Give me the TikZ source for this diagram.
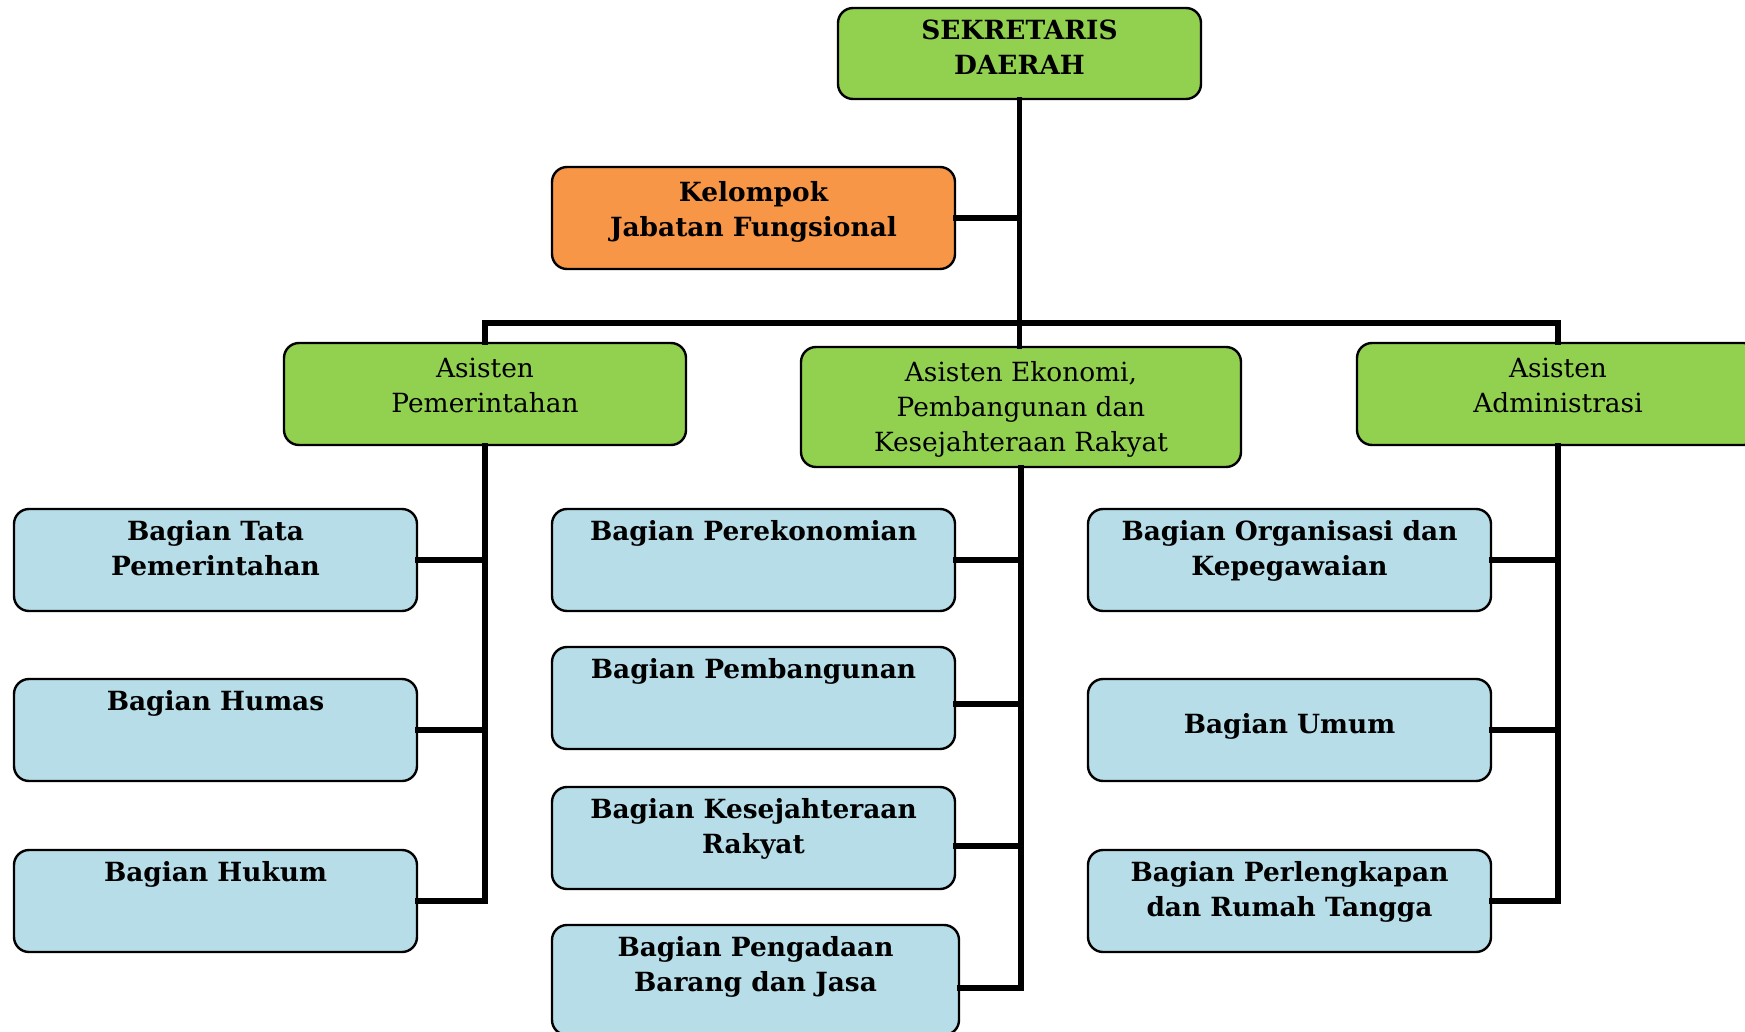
\documentclass[tikz,border=0pt]{standalone}
\usepackage{fontspec}
\setmainfont{DejaVu Serif}
\definecolor{grn}{HTML}{92D050}
\definecolor{org}{HTML}{F79646}
\definecolor{lblue}{HTML}{B7DEE8}
\begin{document}
\begin{tikzpicture}[x=0.5pt,y=-0.5pt,
  box/.style={draw=black, line width=1.2pt, rounded corners=7.5pt, inner sep=0pt},
  gbox/.style={box, fill=grn},
  obox/.style={box, fill=org},
  bbox/.style={box, fill=lblue, minimum width=201.5pt, minimum height=51pt},
  txt/.style={anchor=north, inner sep=0pt, align=center, font=\fontsize{13.2}{17.5}\selectfont},
  btxt/.style={txt, font=\fontsize{13.2}{17.5}\selectfont\bfseries},
  conn/.style={line width=2.8pt, line cap=rect}]
\useasboundingbox (0,0) rectangle (1745,1032);
\clip (0,0) rectangle (1745,1032);

% boxes
\node[gbox, minimum width=181.5pt, minimum height=45.5pt] (sek) at (1019.5,53.5) {};
\node[obox, minimum width=201.5pt, minimum height=51pt] (kel) at (753.5,218) {};
\node[gbox, minimum width=201pt, minimum height=51pt] (asp) at (485,394) {};
\node[gbox, minimum width=220pt, minimum height=60pt] (ase) at (1021,407) {};
\node[gbox, minimum width=201pt, minimum height=51pt] (asa) at (1558,394) {};

\node[bbox] (l1) at (215.5,560) {};
\node[bbox] (l2) at (215.5,730) {};
\node[bbox] (l3) at (215.5,901) {};
\node[bbox] (m1) at (753.5,560) {};
\node[bbox] (m2) at (753.5,698) {};
\node[bbox] (m3) at (753.5,838) {};
\node[bbox, minimum width=203.5pt, minimum height=55pt] (m4) at (755.5,980) {};
\node[bbox] (r1) at (1289.5,560) {};
\node[bbox] (r2) at (1289.5,730) {};
\node[bbox] (r3) at (1289.5,901) {};

% texts
\node[btxt] (sekT) at ([yshift=-6.5pt]sek.north) {SEKRETARIS\\DAERAH};
\node[btxt] (kelT) at ([yshift=-7.5pt]kel.north) {Kelompok\\Jabatan Fungsional};
\node[txt] (aspT) at ([yshift=-7.8pt]asp.north) {Asisten\\Pemerintahan};
\node[txt] (aseT) at ([yshift=-7.6pt]ase.north) {Asisten Ekonomi,\\Pembangunan dan\\Kesejahteraan Rakyat};
\node[txt] (asaT) at ([yshift=-7.8pt]asa.north) {Asisten\\Administrasi};
\node[btxt] (l1T) at ([yshift=-6.3pt]l1.north) {Bagian Tata\\Pemerintahan};
\node[btxt] (l2T) at ([yshift=-6.3pt]l2.north) {Bagian Humas};
\node[btxt] (l3T) at ([yshift=-6.3pt]l3.north) {Bagian Hukum};
\node[btxt] (m1T) at ([yshift=-6.3pt]m1.north) {Bagian Perekonomian};
\node[btxt] (m2T) at ([yshift=-6.3pt]m2.north) {Bagian Pembangunan};
\node[btxt] (m3T) at ([yshift=-6.3pt]m3.north) {Bagian Kesejahteraan\\Rakyat};
\node[btxt] (m4T) at ([yshift=-6.3pt]m4.north) {Bagian Pengadaan\\Barang dan Jasa};
\node[btxt] (r1T) at ([yshift=-6.3pt]r1.north) {Bagian Organisasi dan\\Kepegawaian};
\node[btxt] (r2T) at ([yshift=-17.5pt]r2.north) {Bagian Umum};
\node[btxt] (r3T) at ([yshift=-6.3pt]r3.north) {Bagian Perlengkapan\\dan Rumah Tangga};

% connectors
\coordinate (bar) at (1019.5,323);
\draw[conn] (sek.south) -- (sek.south |- ase.north);
\draw[conn] (kel.east) -- (kel.east -| sek.south);
\draw[conn] (asp.north) |- (bar) -| (asa.north);

\draw[conn] (asp.south) |- (l3.east);
\draw[conn] (l1.east) -- (l1.east -| asp.south);
\draw[conn] (l2.east) -- (l2.east -| asp.south);

\draw[conn] (ase.south) |- ([yshift=-4pt]m4.east);
\draw[conn] (m1.east) -- (m1.east -| ase.south);
\draw[conn] ([yshift=-3pt]m2.east) -- ([yshift=-3pt]m2.east -| ase.south);
\draw[conn] ([yshift=-4pt]m3.east) -- ([yshift=-4pt]m3.east -| ase.south);

\draw[conn] (asa.south) |- (r3.east);
\draw[conn] (r1.east) -- (r1.east -| asa.south);
\draw[conn] (r2.east) -- (r2.east -| asa.south);
\end{tikzpicture}
\end{document}
